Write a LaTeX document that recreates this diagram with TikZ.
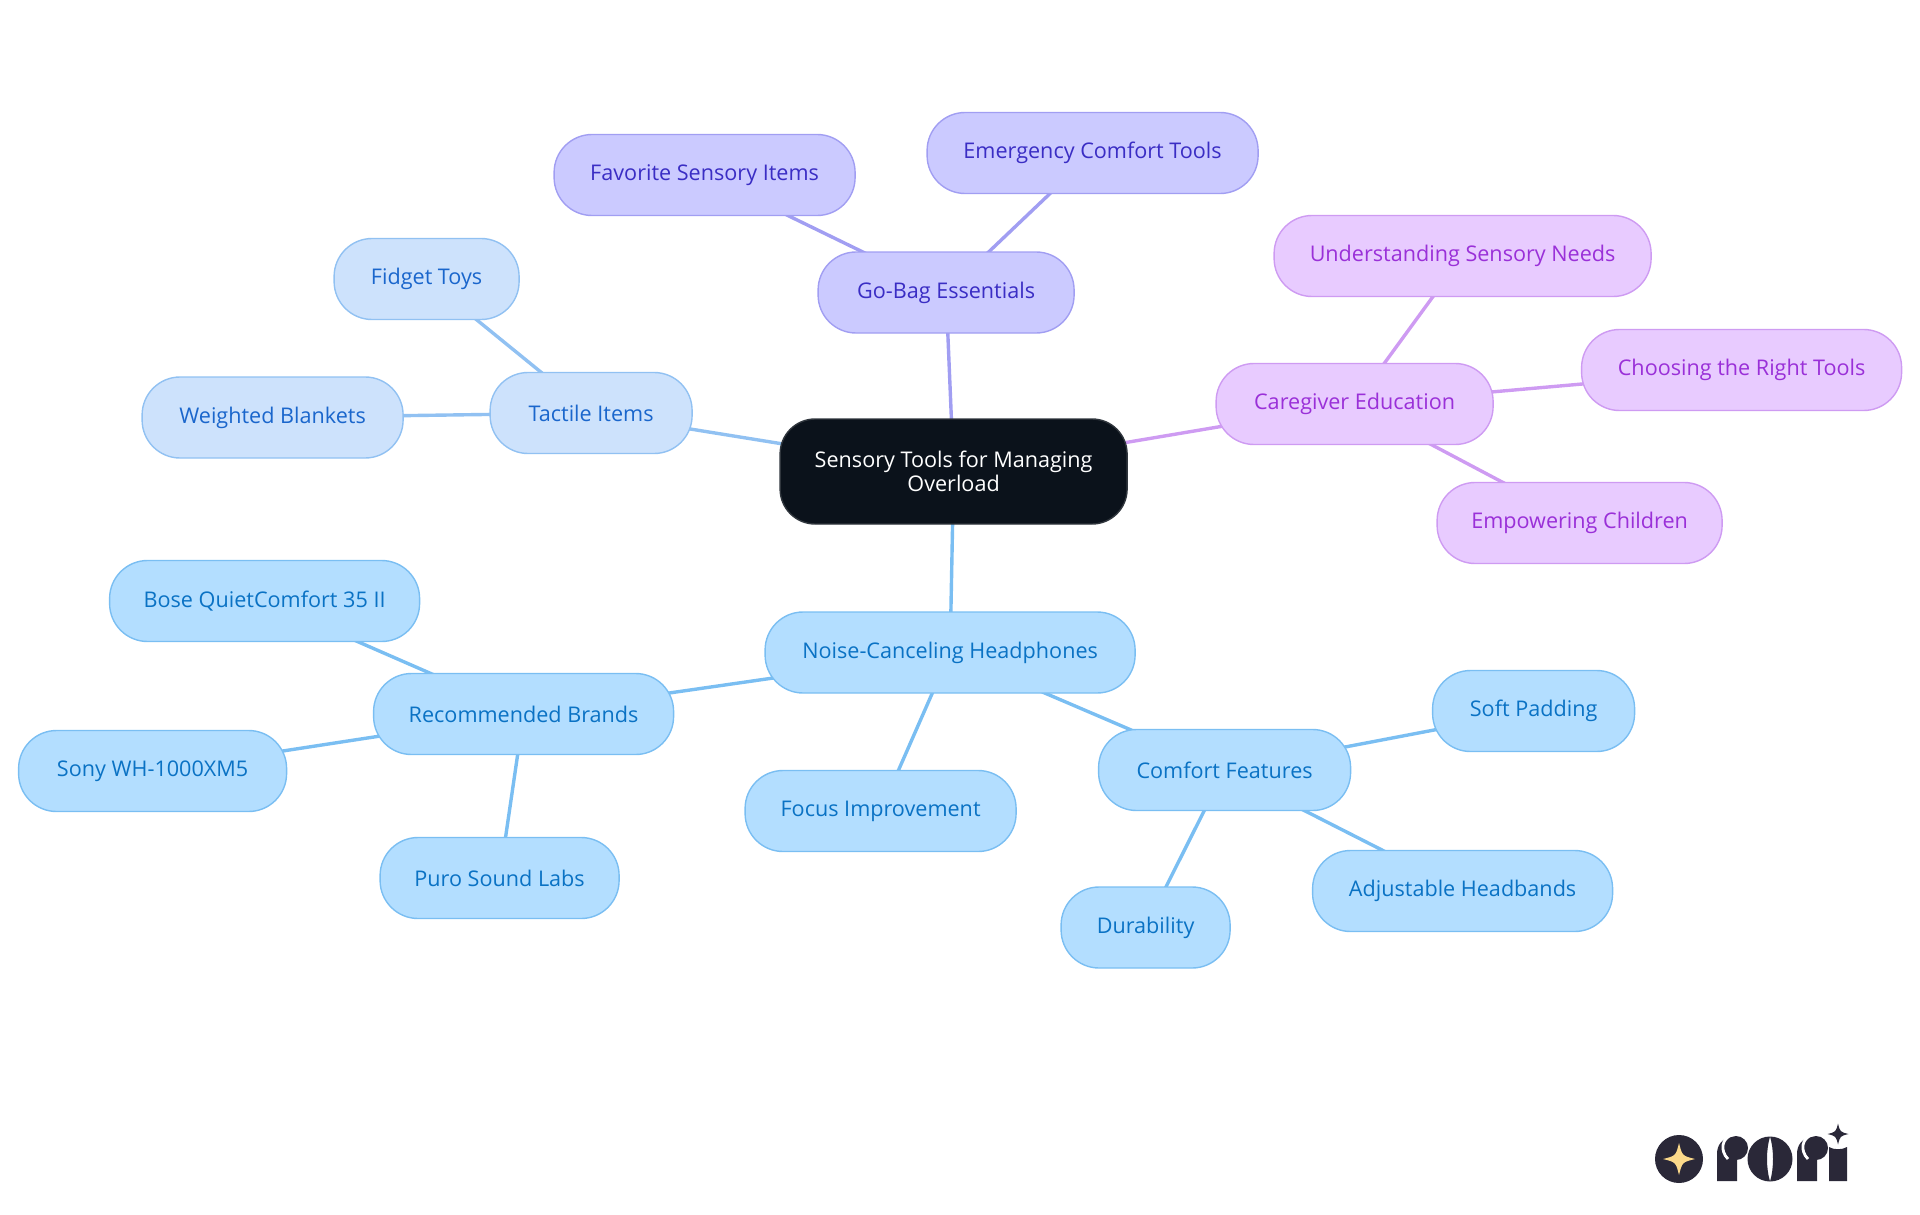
\documentclass[tikz,border=0pt]{standalone}
\usepackage{fontspec}
\setmainfont{Open Sans}
\usetikzlibrary{arrows.meta,backgrounds,fit,positioning}
\definecolor{rootfill}{HTML}{0B121B}
\definecolor{noisefill}{HTML}{B3DEFF}
\definecolor{noiseline}{HTML}{7ABEF2}
\definecolor{noisetext}{HTML}{0A72C4}
\definecolor{tactfill}{HTML}{CDE2FC}
\definecolor{tactline}{HTML}{91C1F2}
\definecolor{tacttext}{HTML}{1A66CC}
\definecolor{bagfill}{HTML}{CBCAFF}
\definecolor{bagline}{HTML}{A19EF2}
\definecolor{bagtext}{HTML}{3A2DC4}
\definecolor{carefill}{HTML}{E8CBFF}
\definecolor{careline}{HTML}{CE9BF2}
\definecolor{caretext}{HTML}{9A30D8}
\definecolor{logodark}{HTML}{2A2838}
\definecolor{logostar}{HTML}{FBD98A}
\tikzset{
  topic/.style={rounded corners=38pt,minimum height=81pt,inner sep=0pt,line width=1.4pt,align=center,font=\fontsize{21.6}{24}\selectfont},
  wd/.style={minimum width=#1pt-1pt},
  noise/.style={topic,draw=noiseline,fill=noisefill,text=noisetext},
  tact/.style={topic,draw=tactline,fill=tactfill,text=tacttext},
  bag/.style={topic,draw=bagline,fill=bagfill,text=bagtext},
  care/.style={topic,draw=careline,fill=carefill,text=caretext},
  link/.style={line width=3.4pt},
  star/.style={fill=logostar}
}
\newcommand{\fourstar}[3]{(#1+#3,#2) .. controls (#1+0.2*#3,#2-0.2*#3) .. (#1,#2-#3) .. controls (#1-0.2*#3,#2-0.2*#3) .. (#1-#3,#2) .. controls (#1-0.2*#3,#2+0.2*#3) .. (#1,#2+#3) .. controls (#1+0.2*#3,#2+0.2*#3) .. cycle}
\begin{document}
\begin{tikzpicture}[x=1pt,y=-1pt]
  \useasboundingbox (0,0) rectangle (1920,1215);
  \begin{scope}
    \node (root) [topic,rounded corners=35pt,draw=rootfill!85!white,fill=rootfill,text=white,wd=348,minimum height=105pt] at (953.6,471.5) {Sensory Tools for Managing\\Overload};
    % noise branch
    \node (noise) [noise,wd=371,below of=root,node distance=181pt,xshift=-3.5pt] {Noise-Canceling Headphones};
    \node (brands) [noise,wd=301,left of=noise,node distance=426.5pt,yshift=-61.5pt] {Recommended Brands};
    \node (bose) [noise,wd=311,above of=brands,node distance=113pt,xshift=-259pt] {Bose QuietComfort 35 II};
    \node (sony) [noise,wd=269,left of=brands,node distance=371pt,yshift=-57pt] {Sony WH-1000XM5};
    \node (puro) [noise,wd=240,below of=brands,node distance=164pt,xshift=-24pt] {Puro Sound Labs};
    \node (focus) [noise,wd=272,below of=noise,node distance=158.5pt,xshift=-69.5pt] {Focus Improvement};
    \node (comfort) [noise,wd=253,right of=noise,node distance=274.5pt,yshift=-117.5pt] {Comfort Features};
    \node (padding) [noise,wd=203,right of=comfort,node distance=309pt,yshift=59pt] {Soft Padding};
    \node (headband) [noise,wd=301,below of=comfort,node distance=121pt,xshift=238pt] {Adjustable Headbands};
    \node (durable) [noise,wd=170,below of=comfort,node distance=157.5pt,xshift=-79pt] {Durability};
    % tactile branch
    \node (tactile) [tact,wd=203,left of=root,node distance=362.5pt,yshift=58.5pt] {Tactile Items};
    \node (fidget) [tact,wd=186,above of=tactile,node distance=134pt,xshift=-164.5pt] {Fidget Toys};
    \node (blanket) [tact,wd=262,left of=tactile,node distance=318.5pt,yshift=-4.5pt] {Weighted Blankets};
    % go-bag branch
    \node (gobag) [bag,wd=257,above of=root,node distance=179pt,xshift=-7.5pt] {Go-Bag Essentials};
    \node (favorite) [bag,wd=302,left of=gobag,node distance=241.5pt,yshift=117.5pt] {Favorite Sensory Items};
    \node (comforttool) [bag,wd=332,right of=gobag,node distance=146.5pt,yshift=139.5pt] {Emergency Comfort Tools};
    % caregiver branch
    \node (caregiver) [care,wd=278,right of=root,node distance=401pt,yshift=67.5pt] {Caregiver Education};
    \node (needs) [care,wd=378,above of=caregiver,node distance=148pt,xshift=108pt] {Understanding Sensory Needs};
    \node (choosing) [care,wd=321,right of=caregiver,node distance=387pt,yshift=34pt] {Choosing the Right Tools};
    \node (children) [care,wd=286,below of=caregiver,node distance=119pt,xshift=225pt] {Empowering Children};
  \end{scope}
  \begin{scope}[on background layer,every edge/.style={draw,link}]
    \path (root.center) edge[noiseline] (noise.center);
    \path (noise.center) edge[noiseline] (brands.center);
    \path (brands.center) edge[noiseline] (bose.center);
    \path (brands.center) edge[noiseline] (sony.center);
    \path (brands.center) edge[noiseline] (puro.center);
    \path (noise.center) edge[noiseline] (focus.center);
    \path (noise.center) edge[noiseline] (comfort.center);
    \path (comfort.center) edge[noiseline] (padding.center);
    \path (comfort.center) edge[noiseline] (headband.center);
    \path (comfort.center) edge[noiseline] (durable.center);
    \path (root.center) edge[tactline] (tactile.center);
    \path (tactile.center) edge[tactline] (fidget.center);
    \path (tactile.center) edge[tactline] (blanket.center);
    \path (root.center) edge[bagline] (gobag.center);
    \path (gobag.center) edge[bagline] (favorite.center);
    \path (gobag.center) edge[bagline] (comforttool.center);
    \path (root.center) edge[careline] (caregiver.center);
    \path (caregiver.center) edge[careline] (needs.center);
    \path (caregiver.center) edge[careline] (choosing.center);
    \path (caregiver.center) edge[careline] (children.center);
  \end{scope}
  % logo
  \fill[logodark] (1679,1159) circle (24);
  \fill[star] \fourstar{1679}{1159}{16};
  \fill[logodark] \fourstar{1838}{1134}{10.5};
  \foreach \xx in {0,80}{
    \fill[logodark] (1717+\xx,1181) -- (1717+\xx,1154) .. controls (1717+\xx,1145) and (1722+\xx,1138) .. (1732+\xx,1137) -- (1737+\xx,1150) -- (1737+\xx,1181) -- cycle;
    \fill[logodark] (1736+\xx,1148) circle (12);
    \draw[white,line width=2.8pt] (1733+\xx,1134.5) .. controls (1721+\xx,1138) and (1720+\xx,1151) .. (1728+\xx,1159);
  }
  \fill[logodark,even odd rule] (1770,1159) circle (22.5) (1770,1136.5) .. controls (1766,1150) and (1766,1168) .. (1770,1181.5) .. controls (1774,1168) and (1774,1150) .. (1770,1136.5);
  \fill[logodark] (1829,1147) .. controls (1834,1150) and (1842,1150) .. (1847,1147) -- (1847,1181) -- (1829,1181) -- cycle;
\end{tikzpicture}
\end{document}
